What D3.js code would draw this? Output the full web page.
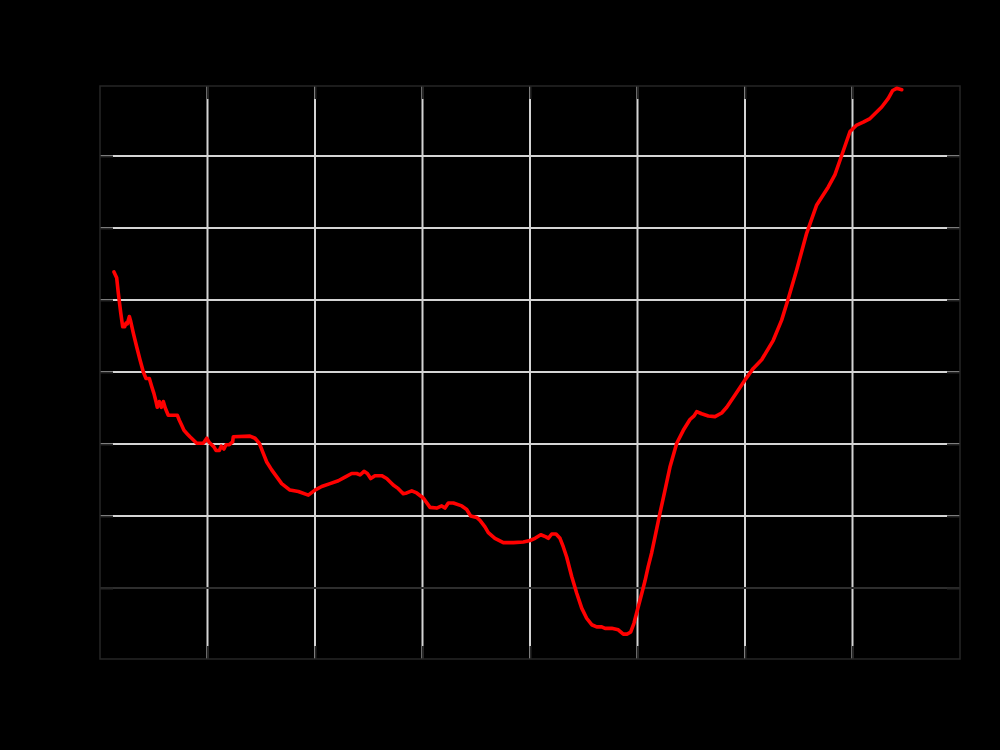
<!DOCTYPE html>
<html>
<head>
<meta charset="utf-8">
<script src="https://cdn.jsdelivr.net/npm/d3@7"></script>
<style>
  html, body { margin: 0; padding: 0; background: #000; }
  svg { display: block; }
  text { font-family: "DejaVu Sans", sans-serif; }
</style>
</head>
<body>
<svg id="chart" width="1000" height="750"></svg>
<script>
// ---- data ----
const years = [
  1941.30,1941.55,1941.70,1941.93,1942.11,1942.30,1942.42,1942.54,1942.73,1942.86,
  1943.10,1943.41,1943.72,1944.03,1944.28,1944.59,1944.81,1945.02,1945.21,1945.33,
  1945.52,1945.70,1945.89,1946.07,1946.35,1946.67,1947.19,1947.38,1947.60,1947.81,
  1948.12,1948.37,1949.00,1949.61,1949.93,1950.17,1950.60,1950.79,1951.10,1951.28,
  1951.53,1951.72,1952.03,1952.34,1952.40,1953.95,1954.42,1954.82,1955.19,1955.51,
  1955.97,1956.90,1957.67,1958.45,1959.38,1960.00,1960.62,1961.40,1962.17,1962.79,
  1963.41,1963.88,1964.19,1964.56,1964.87,1965.18,1965.58,1966.20,1966.67,1967.28,
  1967.75,1968.21,1968.53,1969.00,1969.46,1970.07,1970.70,1971.32,1971.79,1972.09,
  1972.40,1972.87,1973.65,1974.11,1974.48,1975.04,1975.35,1975.81,1976.12,1976.74,
  1977.52,1978.45,1979.38,1980.00,1980.47,1981.00,1981.49,1981.70,1982.02,1982.42,
  1982.79,1983.10,1983.41,1983.88,1984.34,1984.81,1985.27,1985.74,1986.20,1986.67,
  1986.98,1987.60,1988.21,1988.68,1989.05,1989.37,1989.67,1990.07,1990.39,1990.70,
  1991.00,1991.32,1991.63,1992.09,1992.56,1993.02,1993.65,1994.26,1994.88,1995.26,
  1995.51,1995.97,1996.59,1997.21,1997.83,1998.30,1999.07,2000.00,2000.77,2001.55,
  2002.63,2003.41,2004.03,2004.81,2005.74,2006.67,2007.75,2008.37,2009.00,2009.77,
  2010.39,2011.00,2011.63,2012.72,2013.33,2013.74,2014.11,2014.58
];
const values = [
  4.39,4.31,4.10,3.82,3.63,3.63,3.68,3.67,3.77,3.70,
  3.54,3.35,3.17,3.00,2.91,2.91,2.80,2.70,2.59,2.51,
  2.59,2.51,2.59,2.50,2.40,2.40,2.40,2.33,2.26,2.19,
  2.14,2.10,2.01,2.01,2.08,2.02,1.96,1.91,1.91,1.97,
  1.93,1.99,1.99,2.03,2.10,2.11,2.08,2.01,1.87,1.75,
  1.64,1.45,1.36,1.34,1.29,1.36,1.41,1.45,1.49,1.54,
  1.59,1.59,1.57,1.62,1.59,1.52,1.56,1.56,1.52,1.43,
  1.38,1.31,1.32,1.35,1.32,1.25,1.12,1.11,1.14,1.11,
  1.18,1.18,1.14,1.09,1.00,0.98,0.94,0.85,0.77,0.69,
  0.63,0.63,0.64,0.66,0.69,0.74,0.71,0.69,0.75,0.75,
  0.69,0.57,0.43,0.16,-0.07,-0.28,-0.42,-0.51,-0.54,-0.54,
  -0.56,-0.56,-0.58,-0.64,-0.64,-0.61,-0.49,-0.26,-0.08,0.10,
  0.30,0.49,0.71,1.04,1.36,1.68,2.01,2.19,2.34,2.39,
  2.45,2.42,2.39,2.38,2.43,2.51,2.68,2.89,3.05,3.17,
  3.44,3.72,4.02,4.42,4.93,5.32,5.57,5.74,6.01,6.34,
  6.43,6.47,6.52,6.68,6.80,6.91,6.94,6.92
];
const xTicks = [1950, 1960, 1970, 1980, 1990, 2000, 2010];
const yTicks = [0, 1, 2, 3, 4, 5, 6];
const xTickLabels = ["1950", "1960", "1970", "1980", "1990", "2000", "2010"];
const yTickLabels = ["0", "1", "2", "3", "4", "5", "6"];
const titleText = "";
const xLabel = "Year";
const yLabel = "Value";

// ---- layout ----
const W = 1000, H = 750;
const L = 100, R = 960, T = 86, B = 659;
const tickLen = 13;

const svg = d3.select("#chart");
svg.append("rect").attr("width", W).attr("height", H).attr("fill", "#000");

const x = d3.scaleLinear().domain([1940, 2020]).range([L, R]);
const y = d3.scaleLinear().domain([-0.986, 6.972]).range([B, T]);

// grid lines
const grid = svg.append("g");
grid.selectAll("line.gx").data(xTicks).join("line")
  .attr("x1", d => x(d)).attr("x2", d => x(d))
  .attr("y1", T).attr("y2", B)
  .attr("stroke", "#d4d4d4").attr("stroke-width", 2);
grid.selectAll("line.gy").data(yTicks.filter(d => d !== 0)).join("line")
  .attr("x1", L).attr("x2", R)
  .attr("y1", d => y(d)).attr("y2", d => y(d))
  .attr("stroke", "#d4d4d4").attr("stroke-width", 2);

// zero line (dark)
svg.append("line")
  .attr("x1", L).attr("x2", R)
  .attr("y1", y(0)).attr("y2", y(0))
  .attr("stroke", "#2e2e2e").attr("stroke-width", 2);

// axes with inward ticks on all four sides
const tickColor = "#262626";
function styleAxis(g) {
  g.select(".domain").remove();
  g.selectAll(".tick line").attr("stroke", tickColor).attr("stroke-width", 2);
  g.selectAll(".tick text").attr("fill", "#000").attr("font-size", 14);
}
svg.append("g").attr("transform", `translate(0,${B})`)
  .call(d3.axisBottom(x).tickValues(xTicks).tickFormat((d, i) => xTickLabels[i])
    .tickSizeInner(-tickLen).tickPadding(tickLen + 6))
  .call(styleAxis);
svg.append("g").attr("transform", `translate(0,${T})`)
  .call(d3.axisTop(x).tickValues(xTicks).tickFormat("").tickSizeInner(-tickLen))
  .call(styleAxis);
svg.append("g").attr("transform", `translate(${L},0)`)
  .call(d3.axisLeft(y).tickValues(yTicks).tickFormat((d, i) => yTickLabels[i])
    .tickSizeInner(-tickLen).tickPadding(tickLen + 6))
  .call(styleAxis);
svg.append("g").attr("transform", `translate(${R},0)`)
  .call(d3.axisRight(y).tickValues(yTicks).tickFormat("").tickSizeInner(-tickLen))
  .call(styleAxis);

// frame
svg.append("rect")
  .attr("x", L).attr("y", T).attr("width", R - L).attr("height", B - T)
  .attr("fill", "none").attr("stroke", "#262626").attr("stroke-width", 1.5);

// data line
const pts = years.map((d, i) => [d, values[i]]);
svg.append("path")
  .datum(pts)
  .attr("fill", "none")
  .attr("stroke", "#ff0000")
  .attr("stroke-width", 3.6)
  .attr("stroke-linejoin", "round")
  .attr("stroke-linecap", "round")
  .attr("d", d3.line().x(d => x(d[0])).y(d => y(d[1])));

// labels (black, as in the reference)
svg.append("text").attr("x", (L + R) / 2).attr("y", 45)
  .attr("text-anchor", "middle").attr("font-size", 18).attr("fill", "#000").text(titleText);
svg.append("text").attr("x", (L + R) / 2).attr("y", 715)
  .attr("text-anchor", "middle").attr("font-size", 16).attr("fill", "#000").text(xLabel);
svg.append("text").attr("transform", `translate(40,${(T + B) / 2}) rotate(-90)`)
  .attr("text-anchor", "middle").attr("font-size", 16).attr("fill", "#000").text(yLabel);
</script>
</body>
</html>
